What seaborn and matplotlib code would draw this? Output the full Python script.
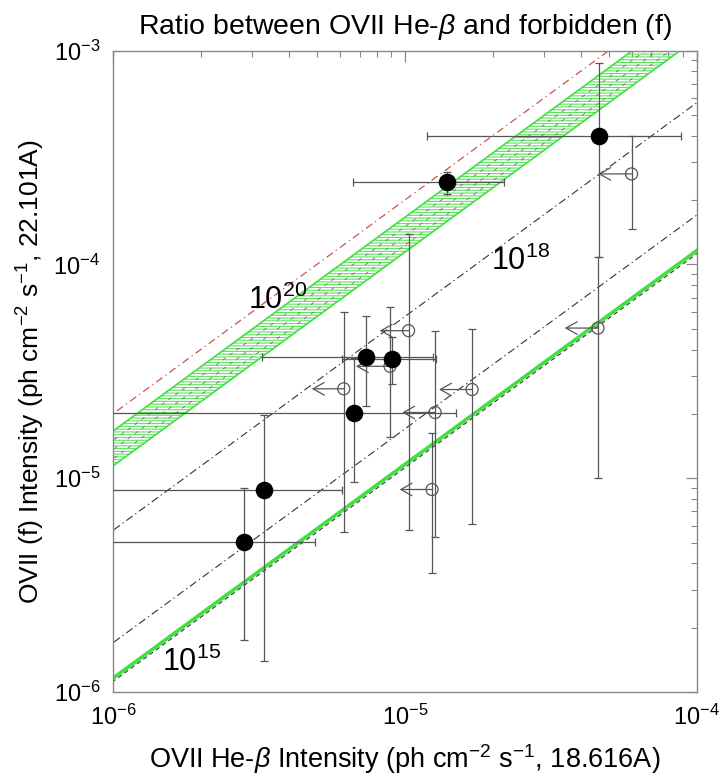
import numpy as np
import matplotlib
matplotlib.use("Agg")
import matplotlib.pyplot as plt
import seaborn as sns

# ---------------- data ----------------
# detections (filled circles)
det_x    = [2.82e-6, 3.30e-6, 6.7e-6, 7.35e-6, 9.05e-6, 1.39e-5, 4.63e-5]
det_y    = [5.02e-6, 8.79e-6, 2.03e-5, 3.69e-5, 3.61e-5, 2.42e-4, 3.99e-4]
det_xlo  = [5.0e-7, 5.0e-7, 5.0e-7, 3.23e-6, 6.1e-6, 6.64e-6, 1.19e-5]
det_xhi  = [4.92e-6, 6.1e-6, 1.5e-5, 1.25e-5, 1.28e-5, 2.18e-5, 8.86e-5]
det_ylo  = [1.76e-6, 1.40e-6, 9.6e-6, 2.17e-5, 2.77e-5, 2.14e-4, 1.08e-4]
det_yhi  = [9.0e-6, 1.98e-5, 3.65e-5, 5.75e-5, 4.6e-5, 2.72e-4, 8.73e-4]

# upper limits in He-beta (open circles with arrows)
ul_x     = [6.18e-6, 8.9e-6, 1.03e-5, 1.27e-5, 1.24e-5, 1.70e-5, 4.59e-5, 5.98e-5]
ul_y     = [2.62e-5, 3.34e-5, 4.9e-5, 2.03e-5, 8.86e-6, 2.60e-5, 5.04e-5, 2.65e-4]
ul_ylo   = [5.6e-6, 1.56e-5, 5.7e-6, 5.3e-6, 3.6e-6, 6.1e-6, 1.0e-5, 1.46e-4]
ul_yhi   = [6.0e-5, 6.3e-5, 1.39e-4, 4.9e-5, 1.62e-5, 5.0e-5, 1.08e-4, 4.0e-4]
ul_arrow = [4.8e-6, 6.8e-6, 8.2e-6, 9.8e-6, 9.6e-6, 1.31e-5, 3.53e-5, 4.6e-5]

# model ratios f / He-beta
band_lo, band_hi = 11.4, 16.6
band_dashed = [12.3, 13.6, 15.0]
red_ratio = 20.0
bk_ratios = [5.7, 1.70]
green_ratio = 1.16
green_dash_ratio = 1.12

# ---------------- style ----------------
sns.set_style("white")
plt.rcParams["font.family"] = ["Liberation Sans", "DejaVu Sans"]
plt.rcParams["mathtext.fontset"] = "custom"
plt.rcParams["mathtext.rm"] = "Liberation Sans"
plt.rcParams["mathtext.it"] = "Liberation Sans:italic"
plt.rcParams["mathtext.bf"] = "Liberation Sans:bold"
plt.rcParams["hatch.linewidth"] = 0.8
plt.rcParams["text.color"] = "black"
plt.rcParams["axes.labelcolor"] = "black"
plt.rcParams["xtick.labelcolor"] = "black"
plt.rcParams["ytick.labelcolor"] = "black"

fig = plt.figure(figsize=(7.19, 7.75), dpi=100)
ax = fig.add_axes([0.157, 0.107, 0.812, 0.8277])
ax.set_xscale("log")
ax.set_yscale("log")
ax.set_xlim(1e-6, 1e-4)
ax.set_ylim(1e-6, 1e-3)

xs = np.array([1e-7, 1e-3])
green = "#3fe03f"
# hatched band
ax.fill_between(xs, band_lo * xs, band_hi * xs, facecolor="none",
                edgecolor="#5fe05f", hatch="------", linewidth=0, zorder=1)
ax.plot(xs, band_lo * xs, color=green, lw=1.2, zorder=2)
ax.plot(xs, band_hi * xs, color=green, lw=1.2, zorder=2)
for r in band_dashed:
    ax.plot(xs, r * xs, color="#666666", lw=0.55, dashes=(5, 6), zorder=2)

ax.plot(xs, red_ratio * xs, color="#d05050", lw=0.9, dashes=(6, 3, 1, 3), zorder=2)
for r in bk_ratios:
    ax.plot(xs, r * xs, color="#333333", lw=0.8, dashes=(7, 3, 1.2, 3), zorder=2)
ax.plot(xs, green_dash_ratio * xs, color="#333333", lw=0.8, dashes=(4, 3), zorder=2)
ax.plot(xs, green_ratio * xs, color=green, lw=2.6, zorder=2)

# error bars
ecol = "#555555"
dx = np.array(det_x); dy = np.array(det_y)
ax.errorbar(dx, dy,
            xerr=[dx - np.array(det_xlo), np.array(det_xhi) - dx],
            yerr=[dy - np.array(det_ylo), np.array(det_yhi) - dy],
            fmt="none", ecolor=ecol, elinewidth=0.9, capsize=3, capthick=0.9, zorder=3)
ux = np.array(ul_x); uy = np.array(ul_y)
ax.errorbar(ux, uy,
            yerr=[uy - np.array(ul_ylo), np.array(ul_yhi) - uy],
            fmt="none", ecolor=ecol, elinewidth=0.9, capsize=3, capthick=0.9, zorder=3)
for x0, y0, xa in zip(ul_x, ul_y, ul_arrow):
    ax.annotate("", xy=(xa, y0), xytext=(x0, y0),
                arrowprops=dict(arrowstyle="->,head_length=0.8,head_width=0.45",
                                color=ecol, lw=0.9, shrinkA=0, shrinkB=0),
                zorder=3)

sns.scatterplot(x=ul_x, y=ul_y, ax=ax, marker="o", s=75, facecolor="none",
                edgecolor=ecol, linewidth=0.9, zorder=4)
sns.scatterplot(x=det_x, y=det_y, ax=ax, marker="o", s=160, color="black",
                edgecolor="black", linewidth=0, zorder=5)

# labels in plot
ax.text(3.67e-6, 6.8e-5, r"$10^{20}$", fontsize=22, ha="center", va="center")
ax.text(2.5e-5, 1.03e-4, r"$10^{18}$", fontsize=22, ha="center", va="center")
ax.text(1.86e-6, 1.37e-6, r"$10^{15}$", fontsize=22, ha="center", va="center")

# axes styling
for s in ax.spines.values():
    s.set_color("#888888")
    s.set_linewidth(1.0)
ax.tick_params(which="both", direction="in", top=True, right=True,
               color="#888888", labelsize=17, pad=9)
ax.tick_params(which="major", length=8, width=0.9)
ax.tick_params(which="minor", length=4, width=0.8)
ax.xaxis.set_major_locator(matplotlib.ticker.LogLocator(base=10, numticks=10))
ax.xaxis.set_minor_locator(matplotlib.ticker.LogLocator(base=10, subs=np.arange(2, 10), numticks=20))
ax.yaxis.set_minor_locator(matplotlib.ticker.LogLocator(base=10, subs=np.arange(2, 10), numticks=20))
ax.xaxis.set_minor_formatter(matplotlib.ticker.NullFormatter())
ax.yaxis.set_minor_formatter(matplotlib.ticker.NullFormatter())

ax.set_title(r"Ratio between OVII He-$\it{\beta}$ and forbidden (f)", fontsize=20.5, pad=12)
ax.set_xlabel(r"OVII He-$\it{\beta}$ Intensity (ph cm$^{-2}$ s$^{-1}$, 18.616A)", fontsize=19.5, labelpad=9)
ax.set_ylabel(r"OVII (f) Intensity (ph cm$^{-2}$ s$^{-1}$, 22.101A)", fontsize=19, labelpad=5)

fig.savefig("out.png", dpi=100)
